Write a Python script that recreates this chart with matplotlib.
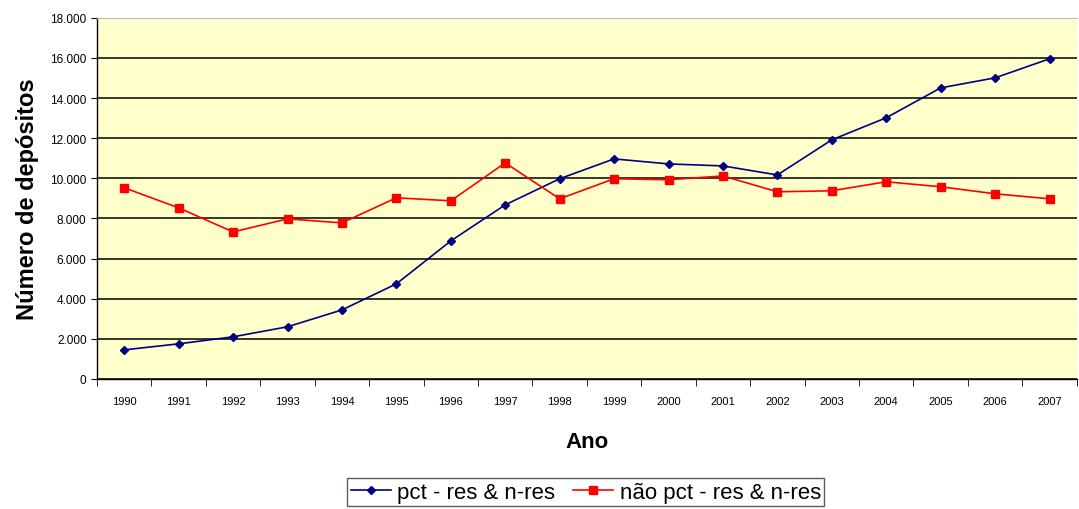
import matplotlib
matplotlib.use('Agg')
import matplotlib.pyplot as plt
from matplotlib.ticker import FuncFormatter, FixedLocator

years = [str(y) for y in range(1990, 2008)]
pct = [1450, 1750, 2100, 2600, 3440, 4740, 6880, 8680, 9980,
       10970, 10720, 10620, 10170, 11920, 13020, 14510, 15010, 15960]
nao_pct = [9530, 8530, 7330, 7980, 7780, 9030, 8880, 10770, 8980,
           9980, 9930, 10120, 9330, 9380, 9830, 9580, 9230, 8980]

plt.rcParams['font.family'] = ['Liberation Sans', 'DejaVu Sans']

fig = plt.figure(figsize=(10.79, 5.10), dpi=100)
ax = fig.add_axes([0.0899, 0.255, 0.908, 0.708])
ax.set_facecolor('#FFFFCC')

x = list(range(len(years)))
ax.plot(x, pct, color='#000080', marker='D', markersize=4.5, linewidth=1.2,
        label='pct - res & n-res')
ax.plot(x, nao_pct, color='#FF0000', marker='s', markersize=5.5, linewidth=1.2,
        label='não pct - res & n-res')

ax.set_xlim(-0.5, len(years) - 0.5)
ax.set_ylim(0, 18000)
ax.set_yticks(range(0, 18001, 2000))
ax.yaxis.set_major_formatter(FuncFormatter(lambda v, p: f'{int(v):,}'.replace(',', '.')))
ax.grid(axis='y', color='black', linewidth=1.1)
ax.set_axisbelow(True)

ax.set_xticks(x)
ax.set_xticklabels(years, fontsize=8)
ax.tick_params(axis='x', which='major', length=0, pad=12)
ax.xaxis.set_minor_locator(FixedLocator([i - 0.5 for i in range(len(years) + 1)]))
ax.tick_params(axis='x', which='minor', length=5, color='black')
ax.tick_params(axis='y', labelsize=8.5, length=4, color='black')

for s in ['left', 'bottom']:
    ax.spines[s].set_color('black')
    ax.spines[s].set_linewidth(1.0)
ax.spines['top'].set_color('#BBBBBB')
ax.spines['right'].set_visible(False)

ax.set_xlabel('Ano', fontsize=16, fontweight='bold', labelpad=18)
ax.set_ylabel('Número de depósitos', fontsize=17, fontweight='bold', labelpad=8)

leg = fig.legend(loc='center', bbox_to_anchor=(0.543, 0.033), ncol=2, fontsize=16,
                 frameon=True, fancybox=False, edgecolor='#333333',
                 handlelength=1.8, handletextpad=0.3, columnspacing=0.8,
                 borderpad=0.15)
leg.get_frame().set_linewidth(1.0)

fig.savefig('out.png', dpi=100)
